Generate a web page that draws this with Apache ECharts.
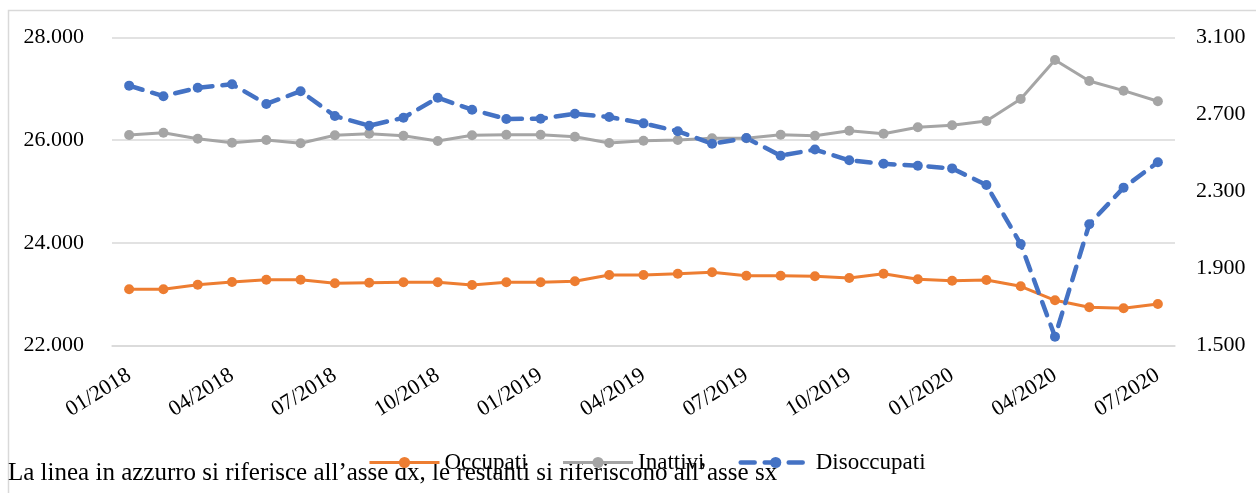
<!DOCTYPE html>
<html>
<head>
<meta charset="utf-8">
<script src="https://cdn.jsdelivr.net/npm/echarts@6/dist/echarts.min.js"></script>
<style>
html,body{margin:0;padding:0;background:#fff;}
#chart{width:1256px;height:493px;}
</style>
</head>
<body>
<div id="chart"></div>
<script>
const months = ["01/2018","02/2018","03/2018","04/2018","05/2018","06/2018","07/2018","08/2018","09/2018","10/2018","11/2018","12/2018",
"01/2019","02/2019","03/2019","04/2019","05/2019","06/2019","07/2019","08/2019","09/2019","10/2019","11/2019","12/2019",
"01/2020","02/2020","03/2020","04/2020","05/2020","06/2020","07/2020"];
const occupati = [23095,23095,23184,23237,23282,23282,23211,23223,23231,23231,23178,23231,23231,23250,23373,23373,23398,23426,23359,23359,23348,23315,23398,23289,23262,23276,23153,22880,22744,22724,22808];
const inattivi = [26101,26145,26028,25951,26003,25939,26095,26126,26087,25984,26095,26107,26107,26067,25945,25990,26003,26036,26036,26107,26087,26184,26126,26251,26290,26373,26802,27562,27153,26964,26757];
const disoccupati = [2850,2795,2839,2857,2755,2821,2692,2642,2683,2787,2725,2677,2678,2704,2687,2654,2613,2548,2578,2486,2518,2462,2444,2434,2420,2334,2027,1546,2130,2320,2452];
const seriesNames = ["Occupati","Inattivi","Disoccupati"];
const footnote = "La linea in azzurro si riferisce all\u2019asse dx, le restanti si riferiscono all\u2019asse sx";

const FONT = "'Liberation Serif', 'DejaVu Serif', serif";
const fmt = v => String(v).replace(/\B(?=(\d{3})+(?!\d))/g, '.');

const chart = echarts.init(document.getElementById('chart'), null, {renderer:'canvas'});
chart.setOption({
  animation:false,
  backgroundColor:'#fff',
  textStyle:{fontFamily:FONT},
  grid:{left:112, right:81, top:37.5, bottom:147.5},
  legend:{
    left:363, top:446,
    itemWidth:70, itemHeight:14, itemGap:34,
    lineStyle:{width:'inherit'},
    textStyle:{fontFamily:FONT, fontSize:23, color:'#000'},
    data:seriesNames
  },
  xAxis:{
    type:'category', data:months, boundaryGap:true,
    axisLine:{show:true, lineStyle:{color:'#d9d9d9', width:1.5}},
    axisTick:{show:false},
    axisLabel:{interval:2, rotate:32, margin:28, fontFamily:FONT, fontSize:22, color:'#000'}
  },
  yAxis:[
    {type:'value', min:22000, max:28000, interval:2000,
     axisLine:{show:false}, axisTick:{show:false},
     splitLine:{lineStyle:{color:'#d9d9d9', width:1.5}},
     axisLabel:{margin:28, fontFamily:FONT, fontSize:22, color:'#000', formatter:fmt}},
    {type:'value', min:1500, max:3100, interval:400, position:'right',
     axisLine:{show:false}, axisTick:{show:false}, splitLine:{show:false},
     axisLabel:{margin:21, fontFamily:FONT, fontSize:22, color:'#000', formatter:fmt}}
  ],
  series:[
    {name:seriesNames[0], type:'line', yAxisIndex:0, data:occupati,
     symbol:'circle', symbolSize:10,
     itemStyle:{color:'#ED7D31'}, lineStyle:{color:'#ED7D31', width:3}},
    {name:seriesNames[1], type:'line', yAxisIndex:0, data:inattivi,
     symbol:'circle', symbolSize:10,
     itemStyle:{color:'#A5A5A5'}, lineStyle:{color:'#A5A5A5', width:3}},
    {name:seriesNames[2], type:'line', yAxisIndex:1, data:disoccupati,
     symbol:'circle', symbolSize:10,
     itemStyle:{color:'#4472C4'}, lineStyle:{color:'#4472C4', width:4.5, type:[14,10], cap:'round'}}
  ],
  graphic:[
    {type:'rect', left:6, top:8, silent:true, z:-1,
     shape:{x:0, y:0, width:1300, height:600},
     style:{fill:null, stroke:'#d9d9d9', lineWidth:1.5}},
    {type:'text', left:8, top:461, silent:true, z:-1,
     style:{text:footnote, font:"25px " + FONT, fill:'#000'}}
  ]
});
</script>
</body>
</html>
